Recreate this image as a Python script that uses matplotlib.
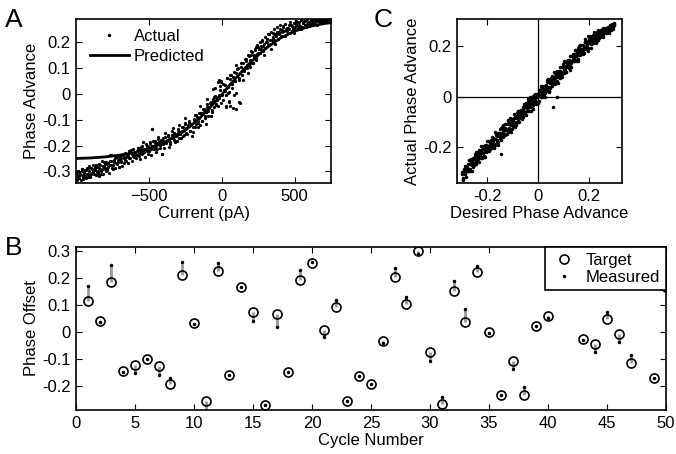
import matplotlib
matplotlib.use("Agg")
import matplotlib.pyplot as plt
from matplotlib.ticker import FuncFormatter
from matplotlib.lines import Line2D

plt.rcParams["font.family"] = ["Liberation Sans", "DejaVu Sans"]

# ---- panel A: phase advance vs injected current (two sweeps) ----
current_1 = [
    -995, -990, -985, -978, -970, -962, -955, -948, -940, -932,
    -925, -918, -910, -902, -895, -888, -880, -872, -865, -858,
    -850, -842, -835, -826, -818, -810, -802, -795, -786, -778,
    -770, -762, -755, -746, -738, -730, -722, -714, -706,
    -698, -690, -680, -672, -662, -654, -645, -636, -628, -618,
    -610, -600, -592, -583, -574, -565, -556, -548, -540, -530,
    -522, -512, -504, -495, -486, -478, -470, -460, -452, -443,
    -435, -426, -418, -410, -402,
    -395, -386, -378, -370, -362, -352, -344, -335, -326, -318,
    -310, -300, -292, -284, -275, -266, -258, -250, -242, -234,
    -225, -216, -208, -200, -192, -184, -175, -166, -158, -150,
    -142, -134, -125, -116, -108,
    -100, -92, -84, -76, -68, -60, -52, -44, -36, -28,
    -20, -12, -4, 4, 12, 20, 28, 36, 44, 52,
    60, 68, 76, 84, 92, 100, 108, 116, 124, 132,
    140, 148, 156, 164, 172, 180, 188, 196,
    204, 212, 220, 228, 236, 244, 252, 260, 268, 276,
    284, 292, 300, 310, 320, 330, 340, 350, 360, 370,
    380, 390, 400, 412, 424, 436, 448, 460, 472, 484,
    496, 508, 520, 532, 545, 558, 570, 584, 598, 612,
    626, 640, 655, 670, 686, 700, 716, 732, 745,
]
phase_1 = [
    -0.335, -0.315, -0.300, -0.325, -0.310, -0.290, -0.330, -0.305, -0.318, -0.295,
    -0.285, -0.312, -0.300, -0.322, -0.288, -0.305, -0.275, -0.296, -0.315, -0.283,
    -0.300, -0.270, -0.292, -0.310, -0.278, -0.262, -0.288, -0.300, -0.270, -0.283,
    -0.258, -0.236, -0.275, -0.290, -0.262, -0.248, -0.270, -0.255, -0.282,
    -0.245, -0.262, -0.238, -0.250, -0.228, -0.258, -0.240, -0.222, -0.248, -0.232,
    -0.215, -0.242, -0.225, -0.236, -0.210, -0.230, -0.218, -0.200, -0.226, -0.212,
    -0.195, -0.220, -0.205, -0.188, -0.213, -0.135, -0.200, -0.182, -0.210, -0.192,
    -0.175, -0.198, -0.184, -0.232, -0.170,
    -0.190, -0.165, -0.182, -0.158, -0.176, -0.195, -0.160, -0.172, -0.150, -0.185,
    -0.158, -0.140, -0.170, -0.148, -0.130, -0.162, -0.138, -0.118, -0.150, -0.125,
    -0.105, -0.142, -0.118, -0.128, -0.098, -0.130, -0.082, -0.112, -0.092, -0.122,
    -0.075, -0.105, -0.060, -0.095, -0.072,
    -0.040, -0.085, -0.055, -0.030, -0.070, -0.020, -0.050, -0.008, -0.040, 0.045,
    -0.015, 0.030, 0.050, -0.005, 0.040, 0.010, -0.050, 0.060, 0.025, -0.030,
    0.075, 0.040, -0.055, 0.085, 0.050, 0.005, 0.095, 0.060, -0.035, 0.105,
    0.075, 0.120, 0.090, 0.135, 0.100, 0.150, 0.110, 0.130,
    0.165, 0.120, 0.150, 0.175, 0.140, 0.190, 0.160, 0.200, 0.175, 0.210,
    0.185, 0.195, 0.220, 0.200, 0.232, 0.210, 0.240, 0.222, 0.250, 0.232,
    0.258, 0.240, 0.265, 0.248, 0.262, 0.272, 0.255, 0.268, 0.278, 0.262,
    0.275, 0.283, 0.268, 0.280, 0.286, 0.274, 0.284, 0.289, 0.278, 0.287,
    0.282, 0.290, 0.285, 0.290, 0.284, 0.291, 0.288, 0.292, 0.289,
]
current_2 = [
    -998, -994, -988, -981, -975, -968, -962, -955,
    -949, -942, -936, -929, -923, -916, -910, -903,
    -897, -890, -884, -877, -871, -864, -858, -851,
    -851, -844, -838, -831, -825, -818, -812, -805,
    -799, -792, -786, -779, -773, -766, -760, -753,
    -747, -740, -734, -727, -721, -714, -708, -701,
    -701, -694, -688, -681, -675, -668, -662, -655,
    -649, -642, -636, -629, -623, -616, -610, -603,
    -597, -590, -584, -577, -571, -564, -558, -551,
    -551, -544, -538, -531, -525, -518, -512, -505,
    -499, -492, -486, -479, -473, -466, -460, -453,
    -447, -440, -434, -427, -421, -414, -408, -401,
    -401, -394, -388, -381, -375, -368, -362, -355,
    -349, -342, -336, -329, -323, -316, -310, -303,
    -297, -290, -284, -277, -271, -264, -258, -251,
    -251, -244, -238, -231, -225, -218, -212, -205,
    -199, -192, -186, -179, -173, -166, -160, -153,
    -147, -140, -134, -127, -121, -114, -108, -101,
    -101, -94, -88, -81, -75, -68, -62, -55,
    -49, -42, -36, -29, -23, -16, -10, -3,
    3, 10, 16, 23, 29, 36, 42, 49,
    49, 56, 62, 69, 75, 82, 88, 95,
    101, 108, 114, 121, 127, 134, 140, 147,
    153, 160, 166, 173, 179, 186, 192, 199,
    199, 206, 212, 219, 225, 232, 238, 245,
    251, 258, 264, 271, 277, 284, 290, 297,
    303, 310, 316, 323, 329, 336, 342, 349,
    349, 356, 362, 369, 375, 382, 388, 395,
    401, 408, 414, 421, 427, 434, 440, 447,
    453, 460, 466, 473, 479, 486, 492, 499,
    499, 506, 512, 519, 525, 532, 538, 545,
    551, 558, 564, 571, 577, 584, 590, 597,
    603, 610, 616, 623, 629, 636, 642, 649,
    649, 656, 662, 669, 675, 682, 688, 695,
    701, 708, 714, 721, 727, 734, 740, 747,
    -767, -479, -412, -20, -5, 60, 95, 120, 30, -60,
    -985, -960, -915, -870, -840, -790,
]
phase_2 = [
    -0.308, -0.328, -0.297, -0.304, -0.313, -0.335, -0.291, -0.321,
    -0.314, -0.303, -0.293, -0.325, -0.310, -0.288, -0.279, -0.317,
    -0.309, -0.291, -0.297, -0.311, -0.287, -0.274, -0.303, -0.315,
    -0.306, -0.285, -0.274, -0.297, -0.260, -0.291, -0.309, -0.281,
    -0.271, -0.262, -0.291, -0.267, -0.306, -0.275, -0.259, -0.285,
    -0.275, -0.255, -0.285, -0.267, -0.244, -0.264, -0.284, -0.253,
    -0.242, -0.249, -0.258, -0.280, -0.236, -0.266, -0.255, -0.245,
    -0.231, -0.267, -0.250, -0.226, -0.216, -0.258, -0.239, -0.245,
    -0.233, -0.249, -0.222, -0.208, -0.240, -0.254, -0.230, -0.218,
    -0.205, -0.231, -0.188, -0.224, -0.244, -0.212, -0.202, -0.234,
    -0.220, -0.194, -0.237, -0.202, -0.184, -0.214, -0.191, -0.225,
    -0.212, -0.192, -0.166, -0.188, -0.211, -0.177, -0.184, -0.195,
    -0.181, -0.208, -0.153, -0.190, -0.177, -0.164, -0.204, -0.185,
    -0.170, -0.143, -0.132, -0.179, -0.157, -0.164, -0.182, -0.152,
    -0.135, -0.119, -0.155, -0.170, -0.144, -0.130, -0.159, -0.112,
    -0.093, -0.132, -0.155, -0.119, -0.108, -0.144, -0.115, -0.163,
    -0.146, -0.103, -0.081, -0.117, -0.089, -0.130, -0.106, -0.074,
    -0.045, -0.075, -0.105, -0.060, -0.069, -0.084, -0.116, -0.050,
    -0.019, -0.068, -0.051, -0.034, -0.086, -0.061, -0.026, -0.012,
    0.022, -0.043, -0.013, -0.022, -0.048, -0.006, 0.017, -0.034,
    -0.001, -0.022, 0.015, 0.034, -0.006, 0.060, 0.005, -0.027,
    0.008, 0.058, 0.074, 0.023, 0.064, -0.003, 0.051, 0.079,
    0.112, 0.069, 0.102, 0.053, 0.082, 0.120, 0.087, 0.055,
    0.092, 0.137, 0.128, 0.113, 0.081, 0.147, 0.103, 0.118,
    0.150, 0.164, 0.120, 0.141, 0.171, 0.183, 0.131, 0.156,
    0.182, 0.175, 0.157, 0.187, 0.203, 0.167, 0.152, 0.178,
    0.202, 0.214, 0.188, 0.231, 0.195, 0.175, 0.207, 0.217,
    0.236, 0.207, 0.231, 0.192, 0.223, 0.239, 0.213, 0.233,
    0.250, 0.224, 0.239, 0.259, 0.242, 0.224, 0.251, 0.245,
    0.257, 0.250, 0.234, 0.267, 0.245, 0.253, 0.260, 0.236,
    0.249, 0.258, 0.272, 0.278, 0.254, 0.265, 0.261, 0.252,
    0.260, 0.276, 0.284, 0.265, 0.258, 0.271, 0.278, 0.263,
    0.272, 0.289, 0.275, 0.266, 0.280, 0.285, 0.270, 0.282,
    0.287, 0.268, 0.283, 0.290, 0.278, 0.288, 0.273, 0.282,
    0.286, 0.290, 0.287, 0.280, 0.290, 0.289, 0.285, 0.277,
    -0.236, -0.135, -0.232, 0.052, 0.045, -0.048, -0.058, -0.030, -0.045, 0.020,
    -0.322, -0.300, -0.320, -0.283, -0.318, -0.295,
]
current_fit = [-1000, -900, -800, -700, -600, -500, -400, -300, -250, -200, -150,
               -100, -50, 0, 50, 100, 150, 200, 250, 300, 400, 500, 600, 700, 750]
phase_fit = [-0.250, -0.248, -0.244, -0.237, -0.228, -0.212, -0.190, -0.160, -0.141,
             -0.118, -0.093, -0.064, -0.034, -0.003, 0.031, 0.063, 0.094, 0.123,
             0.150, 0.175, 0.215, 0.243, 0.261, 0.272, 0.276]

# ---- panel C: desired vs actual phase advance (two runs) ----
desired_1 = [
    -0.299, -0.298, -0.294, -0.289, -0.289, -0.284, -0.284, -0.279, -0.275, -0.274,
    -0.269, -0.268, -0.264, -0.259, -0.259, -0.254, -0.254, -0.249, -0.245, -0.244,
    -0.239, -0.238, -0.234, -0.229, -0.229, -0.224, -0.224, -0.219, -0.215, -0.214,
    -0.209, -0.208, -0.204, -0.199, -0.199, -0.194, -0.194, -0.189, -0.185, -0.184,
    -0.179, -0.178, -0.174, -0.169, -0.169, -0.164, -0.164, -0.159, -0.155, -0.154,
    -0.149, -0.148, -0.144, -0.139, -0.139, -0.134, -0.134, -0.129, -0.125, -0.124,
    -0.119, -0.118, -0.114, -0.109, -0.109, -0.104, -0.104, -0.099, -0.095, -0.094,
    -0.089, -0.088, -0.084, -0.079, -0.079, -0.074, -0.074, -0.069, -0.065, -0.064,
    -0.059, -0.058, -0.054, -0.049, -0.049, -0.044, -0.044, -0.039, -0.035, -0.034,
    -0.029, -0.028, -0.024, -0.019, -0.019, -0.014, -0.014, -0.009, -0.005, -0.004,
    0.001, 0.002, 0.006, 0.011, 0.011, 0.016, 0.016, 0.021, 0.025, 0.026,
    0.031, 0.032, 0.036, 0.041, 0.041, 0.046, 0.046, 0.051, 0.055, 0.056,
    0.061, 0.062, 0.066, 0.071, 0.071, 0.076, 0.076, 0.081, 0.085, 0.086,
    0.091, 0.092, 0.096, 0.101, 0.101, 0.106, 0.106, 0.111, 0.115, 0.116,
    0.121, 0.122, 0.126, 0.131, 0.131, 0.136, 0.136, 0.141, 0.145, 0.146,
    0.151, 0.152, 0.156, 0.161, 0.161, 0.166, 0.166, 0.171, 0.175, 0.176,
    0.181, 0.182, 0.186, 0.191, 0.191, 0.196, 0.196, 0.201, 0.205, 0.206,
    0.211, 0.212, 0.216, 0.221, 0.221, 0.226, 0.226, 0.231, 0.235, 0.236,
    0.241, 0.242, 0.246, 0.251, 0.251, 0.256, 0.256, 0.261, 0.265, 0.266,
    0.271, 0.272, 0.276, 0.281, 0.281, 0.286, 0.286, 0.291, 0.295, 0.296,
    -0.146, 0.060, 0.072, 0.292, 0.299, 0.300,
]
achieved_1 = [
    -0.297, -0.326, -0.298, -0.275, -0.305, -0.316, -0.276, -0.285, -0.292, -0.251,
    -0.293, -0.264, -0.249, -0.291, -0.258, -0.245, -0.270, -0.224, -0.250, -0.266,
    -0.217, -0.246, -0.259, -0.214, -0.229, -0.236, -0.196, -0.239, -0.207, -0.196,
    -0.239, -0.205, -0.194, -0.214, -0.174, -0.199, -0.216, -0.177, -0.203, -0.179,
    -0.164, -0.178, -0.186, -0.141, -0.189, -0.156, -0.146, -0.189, -0.152, -0.144,
    -0.164, -0.123, -0.149, -0.161, -0.127, -0.152, -0.129, -0.107, -0.133, -0.149,
    -0.091, -0.138, -0.106, -0.091, -0.139, -0.101, -0.094, -0.114, -0.070, -0.099,
    -0.111, -0.076, -0.102, -0.074, -0.057, -0.082, -0.099, -0.054, -0.065, -0.076,
    -0.054, -0.036, -0.062, -0.074, -0.034, -0.044, -0.056, -0.011, -0.055, -0.026,
    -0.011, -0.058, -0.021, -0.009, -0.034, 0.011, -0.019, -0.031, 0.007, -0.022,
    -0.024, 0.017, 0.006, 0.000, 0.040, -0.003, 0.025, 0.041, -0.003, 0.031,
    0.043, 0.020, 0.064, 0.039, 0.022, 0.062, 0.032, 0.060, 0.081, 0.052,
    0.054, 0.095, 0.051, 0.085, 0.095, 0.052, 0.085, 0.097, 0.077, 0.118,
    0.093, 0.077, 0.116, 0.091, 0.114, 0.136, 0.106, 0.095, 0.139, 0.125,
    0.113, 0.137, 0.158, 0.133, 0.116, 0.162, 0.147, 0.140, 0.185, 0.138,
    0.171, 0.182, 0.138, 0.177, 0.184, 0.164, 0.204, 0.180, 0.167, 0.202,
    0.187, 0.172, 0.216, 0.206, 0.194, 0.240, 0.192, 0.225, 0.237, 0.190,
    0.226, 0.234, 0.211, 0.254, 0.224, 0.211, 0.245, 0.218, 0.243, 0.261,
    0.242, 0.236, 0.262, 0.237, 0.254, 0.263, 0.234, 0.257, 0.264, 0.249,
    0.271, 0.260, 0.256, 0.273, 0.261, 0.273, 0.280, 0.271, 0.267, 0.283,
    -0.225, -0.040, 0.000, 0.280, 0.285, 0.290,
]
desired_2 = [
    -0.299, -0.295, -0.291, -0.287, -0.283, -0.297, -0.293, -0.289, -0.285, -0.281,
    -0.279, -0.275, -0.271, -0.267, -0.263, -0.277, -0.273, -0.269, -0.265, -0.261,
    -0.259, -0.255, -0.251, -0.247, -0.243, -0.257, -0.253, -0.249, -0.245, -0.241,
    -0.239, -0.235, -0.231, -0.227, -0.223, -0.237, -0.233, -0.229, -0.225, -0.221,
    -0.219, -0.215, -0.211, -0.207, -0.203, -0.217, -0.213, -0.209, -0.205, -0.201,
    -0.199, -0.195, -0.191, -0.187, -0.183, -0.197, -0.193, -0.189, -0.185, -0.181,
    -0.179, -0.175, -0.171, -0.167, -0.163, -0.177, -0.173, -0.169, -0.165, -0.161,
    -0.159, -0.155, -0.151, -0.147, -0.143, -0.157, -0.153, -0.149, -0.145, -0.141,
    -0.139, -0.135, -0.131, -0.127, -0.123, -0.137, -0.133, -0.129, -0.125, -0.121,
    -0.119, -0.115, -0.111, -0.107, -0.103, -0.117, -0.113, -0.109, -0.105, -0.101,
    -0.099, -0.095, -0.091, -0.087, -0.083, -0.097, -0.093, -0.089, -0.085, -0.081,
    -0.079, -0.075, -0.071, -0.067, -0.063, -0.077, -0.073, -0.069, -0.065, -0.061,
    -0.059, -0.055, -0.051, -0.047, -0.043, -0.057, -0.053, -0.049, -0.045, -0.041,
    -0.039, -0.035, -0.031, -0.027, -0.023, -0.037, -0.033, -0.029, -0.025, -0.021,
    -0.019, -0.015, -0.011, -0.007, -0.003, -0.017, -0.013, -0.009, -0.005, -0.001,
    0.001, 0.005, 0.009, 0.013, 0.017, 0.003, 0.007, 0.011, 0.015, 0.019,
    0.021, 0.025, 0.029, 0.033, 0.037, 0.023, 0.027, 0.031, 0.035, 0.039,
    0.041, 0.045, 0.049, 0.053, 0.057, 0.043, 0.047, 0.051, 0.055, 0.059,
    0.061, 0.065, 0.069, 0.073, 0.077, 0.063, 0.067, 0.071, 0.075, 0.079,
    0.081, 0.085, 0.089, 0.093, 0.097, 0.083, 0.087, 0.091, 0.095, 0.099,
    0.101, 0.105, 0.109, 0.113, 0.117, 0.103, 0.107, 0.111, 0.115, 0.119,
    0.121, 0.125, 0.129, 0.133, 0.137, 0.123, 0.127, 0.131, 0.135, 0.139,
    0.141, 0.145, 0.149, 0.153, 0.157, 0.143, 0.147, 0.151, 0.155, 0.159,
    0.161, 0.165, 0.169, 0.173, 0.177, 0.163, 0.167, 0.171, 0.175, 0.179,
    0.181, 0.185, 0.189, 0.193, 0.197, 0.183, 0.187, 0.191, 0.195, 0.199,
    0.201, 0.205, 0.209, 0.213, 0.217, 0.203, 0.207, 0.211, 0.215, 0.219,
    0.221, 0.225, 0.229, 0.233, 0.237, 0.223, 0.227, 0.231, 0.235, 0.239,
    0.241, 0.245, 0.249, 0.253, 0.257, 0.243, 0.247, 0.251, 0.255, 0.259,
    0.261, 0.265, 0.269, 0.273, 0.277, 0.263, 0.267, 0.271, 0.275, 0.279,
    0.281, 0.285, 0.289, 0.293, 0.297, 0.283, 0.287, 0.291, 0.295, 0.299,
]
achieved_2 = [
    -0.306, -0.319, -0.287, -0.288, -0.292, -0.327, -0.284, -0.305, -0.291, -0.277,
    -0.291, -0.264, -0.250, -0.283, -0.261, -0.283, -0.293, -0.264, -0.246, -0.270,
    -0.257, -0.242, -0.261, -0.220, -0.247, -0.279, -0.247, -0.234, -0.259, -0.231,
    -0.237, -0.217, -0.239, -0.215, -0.241, -0.237, -0.210, -0.226, -0.242, -0.207,
    -0.221, -0.239, -0.191, -0.217, -0.202, -0.206, -0.234, -0.215, -0.189, -0.176,
    -0.194, -0.196, -0.206, -0.178, -0.161, -0.204, -0.212, -0.187, -0.172, -0.191,
    -0.183, -0.197, -0.165, -0.152, -0.177, -0.167, -0.202, -0.167, -0.147, -0.169,
    -0.177, -0.155, -0.128, -0.144, -0.160, -0.143, -0.146, -0.151, -0.169, -0.121,
    -0.138, -0.124, -0.152, -0.133, -0.107, -0.112, -0.146, -0.124, -0.126, -0.136,
    -0.097, -0.122, -0.130, -0.105, -0.090, -0.127, -0.086, -0.113, -0.127, -0.095,
    -0.113, -0.085, -0.120, -0.085, -0.065, -0.105, -0.081, -0.107, -0.085, -0.058,
    -0.096, -0.061, -0.064, -0.069, -0.087, -0.057, -0.083, -0.068, -0.054, -0.082,
    -0.041, -0.028, -0.062, -0.040, -0.042, -0.070, -0.042, -0.025, -0.050, -0.058,
    -0.023, -0.042, -0.001, -0.028, -0.042, -0.028, -0.015, -0.040, -0.012, -0.047,
    0.001, -0.021, 0.003, -0.023, -0.001, 0.008, -0.008, -0.024, 0.011, 0.008,
    -0.022, 0.026, 0.000, 0.015, 0.029, -0.017, 0.002, 0.028, 0.041, 0.007,
    0.022, 0.012, 0.040, 0.057, 0.032, 0.006, 0.031, 0.046, 0.027, 0.068,
    0.023, 0.055, 0.068, 0.043, 0.071, 0.018, 0.053, 0.073, 0.051, 0.075,
    0.067, 0.094, 0.078, 0.062, 0.097, 0.076, 0.071, 0.053, 0.101, 0.075,
    0.099, 0.071, 0.090, 0.116, 0.129, 0.077, 0.099, 0.097, 0.087, 0.115,
    0.103, 0.095, 0.120, 0.135, 0.116, 0.139, 0.112, 0.098, 0.130, 0.143,
    0.141, 0.106, 0.141, 0.161, 0.139, 0.145, 0.119, 0.141, 0.168, 0.152,
    0.167, 0.164, 0.159, 0.141, 0.189, 0.145, 0.160, 0.174, 0.146, 0.165,
    0.200, 0.166, 0.188, 0.186, 0.176, 0.186, 0.203, 0.178, 0.170, 0.195,
    0.186, 0.227, 0.200, 0.186, 0.218, 0.213, 0.188, 0.216, 0.181, 0.216,
    0.210, 0.228, 0.208, 0.224, 0.244, 0.219, 0.207, 0.233, 0.230, 0.226,
    0.244, 0.225, 0.235, 0.245, 0.224, 0.226, 0.245, 0.255, 0.228, 0.245,
    0.231, 0.252, 0.263, 0.245, 0.239, 0.244, 0.256, 0.241, 0.271, 0.251,
    0.259, 0.268, 0.251, 0.269, 0.248, 0.258, 0.271, 0.257, 0.272, 0.256,
    0.280, 0.273, 0.265, 0.283, 0.283, 0.268, 0.260, 0.285, 0.272, 0.280,
]

# ---- panel B: target vs measured phase offset per cycle ----
cycle = list(range(1, 51))
target = [0.116, 0.041, 0.184, -0.146, -0.124, -0.101, -0.127, -0.195, 0.210, 0.034,
          -0.258, 0.225, -0.161, 0.165, 0.075, -0.270, 0.067, -0.150, 0.191, 0.255,
          0.007, 0.094, -0.258, -0.165, -0.195, -0.034, 0.202, 0.105, 0.300, -0.075,
          -0.266, 0.150, 0.037, 0.221, 0.000, -0.236, -0.108, -0.236, 0.023, 0.060,
          0.250, 0.200, -0.027, -0.046, 0.048, -0.009, -0.115, 0.220, -0.172, 0.165]
measured = [0.169, 0.038, 0.248, -0.148, -0.154, -0.100, -0.161, -0.172, 0.258, 0.028,
            -0.300, 0.254, -0.160, 0.165, 0.040, -0.270, 0.019, -0.150, 0.228, 0.258,
            -0.019, 0.120, -0.258, -0.165, -0.195, -0.040, 0.236, 0.131, 0.290, -0.109,
            -0.240, 0.190, 0.085, 0.243, -0.003, -0.236, -0.136, -0.206, 0.023, 0.052,
            0.260, 0.190, -0.030, -0.075, 0.072, -0.036, -0.087, 0.230, -0.170, 0.165]

FS = 12
fmt = FuncFormatter(lambda v, pos: "%g" % round(v, 3) if abs(v) > 1e-9 else "0")


def matlab_axes(ax):
    for s in ax.spines.values():
        s.set_linewidth(1.2)
    ax.tick_params(direction="in", top=True, right=True, length=4, width=0.8,
                   labelsize=FS, pad=4)


fig = plt.figure(figsize=(6.76, 4.54), dpi=100)
W, H = 676, 454


def add_axes(left, top, right, bottom):
    return fig.add_axes([left / W, 1 - bottom / H, (right - left) / W, (bottom - top) / H])


# A
axA = add_axes(76, 19, 331, 183)
axA.plot(current_1, phase_1, ".", color="k", ms=2.6)
axA.plot(current_2, phase_2, ".", color="k", ms=2.6)
axA.plot(current_fit, phase_fit, "-", color="k", lw=2)
axA.set_xlim(-1000, 750)
axA.set_ylim(-0.345, 0.29)
axA.set_xticks([-500, 0, 500])
axA.set_yticks([-0.3, -0.2, -0.1, 0, 0.1, 0.2])
axA.yaxis.set_major_formatter(fmt)
axA.set_xlabel("Current (pA)", fontsize=FS, labelpad=2)
axA.set_ylabel("Phase Advance", fontsize=FS, labelpad=2)
matlab_axes(axA)
handles = [Line2D([], [], ls="none", marker=".", color="k", ms=3),
           Line2D([], [], ls="-", color="k", lw=2)]
axA.legend(handles, ["Actual", "Predicted"], loc="upper left", frameon=False,
           fontsize=FS, handlelength=2.3, handletextpad=0.3, labelspacing=0.3,
           borderaxespad=0, bbox_to_anchor=(0.03, 0.98))
fig.text(5 / W, 1 - 27 / H, "A", fontsize=19)

# C
axC = add_axes(457, 19, 622, 183)
axC.axhline(0, color="k", lw=0.9)
axC.axvline(0, color="k", lw=0.9)
axC.plot(desired_1, achieved_1, ".", color="k", ms=3)
axC.plot(desired_2, achieved_2, ".", color="k", ms=3)
axC.set_xlim(-0.32, 0.33)
axC.set_ylim(-0.34, 0.305)
axC.set_xticks([-0.2, 0, 0.2])
axC.set_yticks([-0.2, 0, 0.2])
axC.xaxis.set_major_formatter(fmt)
axC.yaxis.set_major_formatter(fmt)
axC.set_xlabel("Desired Phase Advance", fontsize=FS, labelpad=2)
axC.set_ylabel("Actual Phase Advance", fontsize=FS, labelpad=2)
matlab_axes(axC)
fig.text(383 / W, 1 - 27 / H, "C", fontsize=19, ha="center")

# B
axB = add_axes(76, 247, 666, 410)
axB.vlines(cycle, target, measured, color="#999999", lw=2, zorder=2)
axB.plot(cycle, target, "o", mfc="none", mec="k", mew=1.2, ms=6.5, zorder=3,
         label="Target")
axB.plot(cycle, measured, ".", color="k", ms=3, zorder=4, label="Measured")
axB.set_xlim(0, 50)
axB.set_ylim(-0.29, 0.315)
axB.set_xticks(range(0, 51, 5))
axB.set_yticks([-0.2, -0.1, 0, 0.1, 0.2, 0.3])
axB.yaxis.set_major_formatter(fmt)
axB.set_xlabel("Cycle Number", fontsize=FS, labelpad=2)
axB.set_ylabel("Phase Offset", fontsize=FS, labelpad=2)
matlab_axes(axB)
leg = axB.legend(loc="upper right", fontsize=FS, fancybox=False, framealpha=1,
                 edgecolor="k", borderaxespad=0, handlelength=1.6,
                 handletextpad=0.5, labelspacing=0.1, borderpad=0.35)
leg.get_frame().set_linewidth(1.2)
leg.set_zorder(10)
fig.text(5 / W, 1 - 255 / H, "B", fontsize=19)

fig.savefig("out.png", dpi=100)
